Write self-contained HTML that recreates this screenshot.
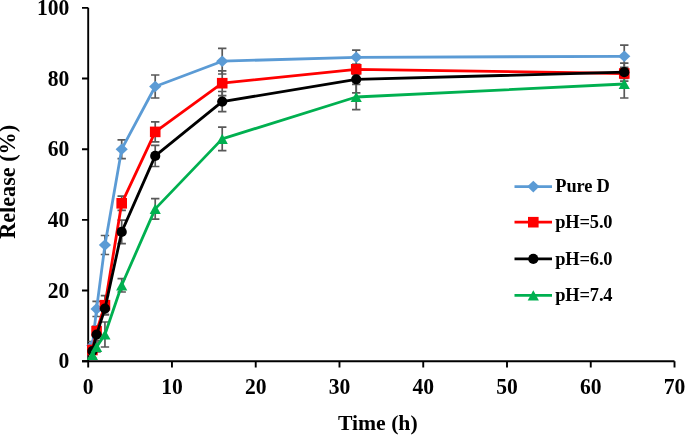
<!DOCTYPE html>
<html><head><meta charset="utf-8"><style>
html,body{margin:0;padding:0;background:#fff;width:685px;height:435px;overflow:hidden}
svg text{font-family:"Liberation Serif",serif;font-weight:bold}
svg{will-change:transform}
</style></head><body>
<svg width="685" height="435" viewBox="0 0 685 435" style="display:block">
<g font-family="Liberation Serif, serif" font-weight="bold" font-size="21.33" fill="#000">
<path d="M88.2 7.8V361.2M82 361.2H674.5" stroke="#000" stroke-width="1.9" fill="none"/><path d="M82 361.20H88.2M82 290.54H88.2M82 219.88H88.2M82 149.22H88.2M82 78.56H88.2M82 7.90H88.2M88.20 361.2V367.6M171.96 361.2V367.6M255.72 361.2V367.6M339.48 361.2V367.6M423.24 361.2V367.6M507.00 361.2V367.6M590.76 361.2V367.6M674.52 361.2V367.6" stroke="#000" stroke-width="1.9" fill="none"/>
<path d="M92.39 341.50V349.50M88.19 341.50H96.59M88.19 349.50H96.59M96.58 301.30V316.50M92.38 301.30H100.78M92.38 316.50H100.78M104.95 235.50V254.50M100.75 235.50H109.15M100.75 254.50H109.15M121.70 139.80V158.60M117.50 139.80H125.90M117.50 158.60H125.90M155.21 75.00V98.00M151.01 75.00H159.41M151.01 98.00H159.41M222.22 48.40V74.00M218.02 48.40H226.42M218.02 74.00H226.42M356.23 50.10V64.50M352.03 50.10H360.43M352.03 64.50H360.43M624.26 45.20V67.40M620.06 45.20H628.46M620.06 67.40H628.46" stroke="#595959" stroke-width="1.7" fill="none"/><path d="M92.39 347.00V353.00M88.19 347.00H96.59M88.19 353.00H96.59M96.58 326.10V336.10M92.38 326.10H100.78M92.38 336.10H100.78M104.95 295.70V314.70M100.75 295.70H109.15M100.75 314.70H109.15M121.70 196.20V210.40M117.50 196.20H125.90M117.50 210.40H125.90M155.21 121.90V141.90M151.01 121.90H159.41M151.01 141.90H159.41M222.22 70.80V95.60M218.02 70.80H226.42M218.02 95.60H226.42M356.23 64.30V74.30M352.03 64.30H360.43M352.03 74.30H360.43M624.26 68.50V78.50M620.06 68.50H628.46M620.06 78.50H628.46" stroke="#595959" stroke-width="1.7" fill="none"/><path d="M92.39 348.00V354.00M88.19 348.00H96.59M88.19 354.00H96.59M96.58 328.60V340.60M92.38 328.60H100.78M92.38 340.60H100.78M104.95 302.60V314.60M100.75 302.60H109.15M100.75 314.60H109.15M121.70 220.20V243.60M117.50 220.20H125.90M117.50 243.60H125.90M155.21 145.30V166.50M151.01 145.30H159.41M151.01 166.50H159.41M222.22 91.50V111.70M218.02 91.50H226.42M218.02 111.70H226.42M356.23 65.80V92.80M352.03 65.80H360.43M352.03 92.80H360.43M624.26 63.20V81.20M620.06 63.20H628.46M620.06 81.20H628.46" stroke="#595959" stroke-width="1.7" fill="none"/><path d="M92.39 352.00V358.00M88.19 352.00H96.59M88.19 358.00H96.59M96.58 342.00V352.00M92.38 342.00H100.78M92.38 352.00H100.78M104.95 322.00V347.00M100.75 322.00H109.15M100.75 347.00H109.15M121.70 278.60V292.00M117.50 278.60H125.90M117.50 292.00H125.90M155.21 198.70V219.10M151.01 198.70H159.41M151.01 219.10H159.41M222.22 127.10V150.70M218.02 127.10H226.42M218.02 150.70H226.42M356.23 84.30V109.70M352.03 84.30H360.43M352.03 109.70H360.43M624.26 70.00V98.00M620.06 70.00H628.46M620.06 98.00H628.46" stroke="#595959" stroke-width="1.7" fill="none"/>
<path d="M92.39 345.50L96.58 308.90L104.95 245.00L121.70 149.20L155.21 86.50L222.22 61.20L356.23 57.30L624.26 56.30" stroke="#5B9BD5" stroke-width="2.8" fill="none" stroke-linejoin="round"/><path d="M92.39 339.70L98.49 345.50L92.39 351.30L86.29 345.50Z" fill="#5B9BD5"/><path d="M96.58 303.10L102.68 308.90L96.58 314.70L90.48 308.90Z" fill="#5B9BD5"/><path d="M104.95 239.20L111.05 245.00L104.95 250.80L98.85 245.00Z" fill="#5B9BD5"/><path d="M121.70 143.40L127.80 149.20L121.70 155.00L115.60 149.20Z" fill="#5B9BD5"/><path d="M155.21 80.70L161.31 86.50L155.21 92.30L149.11 86.50Z" fill="#5B9BD5"/><path d="M222.22 55.40L228.32 61.20L222.22 67.00L216.12 61.20Z" fill="#5B9BD5"/><path d="M356.23 51.50L362.33 57.30L356.23 63.10L350.13 57.30Z" fill="#5B9BD5"/><path d="M624.26 50.50L630.36 56.30L624.26 62.10L618.16 56.30Z" fill="#5B9BD5"/><path d="M92.39 350.00L96.58 331.10L104.95 305.20L121.70 203.30L155.21 131.90L222.22 83.20L356.23 69.30L624.26 73.50" stroke="#FF0000" stroke-width="2.8" fill="none" stroke-linejoin="round"/><rect x="87.09" y="344.70" width="10.60" height="10.60" fill="#FF0000"/><rect x="91.28" y="325.80" width="10.60" height="10.60" fill="#FF0000"/><rect x="99.65" y="299.90" width="10.60" height="10.60" fill="#FF0000"/><rect x="116.40" y="198.00" width="10.60" height="10.60" fill="#FF0000"/><rect x="149.91" y="126.60" width="10.60" height="10.60" fill="#FF0000"/><rect x="216.92" y="77.90" width="10.60" height="10.60" fill="#FF0000"/><rect x="350.93" y="64.00" width="10.60" height="10.60" fill="#FF0000"/><rect x="618.96" y="68.20" width="10.60" height="10.60" fill="#FF0000"/><path d="M92.39 351.00L96.58 334.60L104.95 308.60L121.70 231.90L155.21 155.90L222.22 101.60L356.23 79.30L624.26 72.20" stroke="#000000" stroke-width="2.8" fill="none" stroke-linejoin="round"/><circle cx="92.39" cy="351.00" r="5.1" fill="#000000"/><circle cx="96.58" cy="334.60" r="5.1" fill="#000000"/><circle cx="104.95" cy="308.60" r="5.1" fill="#000000"/><circle cx="121.70" cy="231.90" r="5.1" fill="#000000"/><circle cx="155.21" cy="155.90" r="5.1" fill="#000000"/><circle cx="222.22" cy="101.60" r="5.1" fill="#000000"/><circle cx="356.23" cy="79.30" r="5.1" fill="#000000"/><circle cx="624.26" cy="72.20" r="5.1" fill="#000000"/><path d="M92.39 355.00L96.58 347.00L104.95 334.50L121.70 285.30L155.21 208.90L222.22 138.90L356.23 97.00L624.26 84.00" stroke="#00B050" stroke-width="2.8" fill="none" stroke-linejoin="round"/><path d="M92.39 349.90L97.99 360.10L86.79 360.10Z" fill="#00B050"/><path d="M96.58 341.90L102.18 352.10L90.98 352.10Z" fill="#00B050"/><path d="M104.95 329.40L110.55 339.60L99.35 339.60Z" fill="#00B050"/><path d="M121.70 280.20L127.30 290.40L116.10 290.40Z" fill="#00B050"/><path d="M155.21 203.80L160.81 214.00L149.61 214.00Z" fill="#00B050"/><path d="M222.22 133.80L227.82 144.00L216.62 144.00Z" fill="#00B050"/><path d="M356.23 91.90L361.83 102.10L350.63 102.10Z" fill="#00B050"/><path d="M624.26 78.90L629.86 89.10L618.66 89.10Z" fill="#00B050"/>
<text transform="translate(69.3 368.20) scale(1 1.09)" font-size="21.6" text-anchor="end">0</text><text transform="translate(69.3 297.54) scale(1 1.09)" font-size="21.6" text-anchor="end">20</text><text transform="translate(69.3 226.88) scale(1 1.09)" font-size="21.6" text-anchor="end">40</text><text transform="translate(69.3 156.22) scale(1 1.09)" font-size="21.6" text-anchor="end">60</text><text transform="translate(69.3 85.56) scale(1 1.09)" font-size="21.6" text-anchor="end">80</text><text transform="translate(69.3 14.90) scale(1 1.09)" font-size="21.6" text-anchor="end">100</text><text transform="translate(88.20 394.3) scale(1 1.09)" font-size="21.6" text-anchor="middle">0</text><text transform="translate(171.96 394.3) scale(1 1.09)" font-size="21.6" text-anchor="middle">10</text><text transform="translate(255.72 394.3) scale(1 1.09)" font-size="21.6" text-anchor="middle">20</text><text transform="translate(339.48 394.3) scale(1 1.09)" font-size="21.6" text-anchor="middle">30</text><text transform="translate(423.24 394.3) scale(1 1.09)" font-size="21.6" text-anchor="middle">40</text><text transform="translate(507.00 394.3) scale(1 1.09)" font-size="21.6" text-anchor="middle">50</text><text transform="translate(590.76 394.3) scale(1 1.09)" font-size="21.6" text-anchor="middle">60</text><text transform="translate(674.52 394.3) scale(1 1.09)" font-size="21.6" text-anchor="middle">70</text><text x="377.8" y="430" font-size="21.7" text-anchor="middle">Time (h)</text><text transform="translate(15.1 181.8) rotate(-90)" font-size="22.2" text-anchor="middle">Release (%)</text>
<path d="M514.5 186.6H552" stroke="#5B9BD5" stroke-width="2.8"/><path d="M533.30 180.80L539.40 186.60L533.30 192.40L527.20 186.60Z" fill="#5B9BD5"/><text x="555.3" y="192.20" font-size="18.4" letter-spacing="-0.15">Pure D</text><path d="M514.5 222.2H552" stroke="#FF0000" stroke-width="2.8"/><rect x="528.00" y="216.90" width="10.60" height="10.60" fill="#FF0000"/><text x="555.3" y="227.80" font-size="18.4" letter-spacing="-0.15">pH=5.0</text><path d="M514.5 258.9H552" stroke="#000000" stroke-width="2.8"/><circle cx="533.30" cy="258.90" r="5.1" fill="#000000"/><text x="555.3" y="264.50" font-size="18.4" letter-spacing="-0.15">pH=6.0</text><path d="M514.5 295.35H552" stroke="#00B050" stroke-width="2.8"/><path d="M533.30 290.25L538.90 300.45L527.70 300.45Z" fill="#00B050"/><text x="555.3" y="300.95" font-size="18.4" letter-spacing="-0.15">pH=7.4</text>
</g></svg>
</body></html>
